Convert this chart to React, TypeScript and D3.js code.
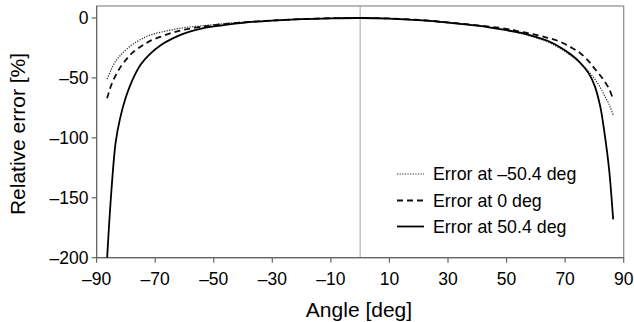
import React from "react";
import * as d3 from "d3";

const angles = [-86.4, -85, -83.5, -82, -80, -78, -75, -72, -68, -64, -60, -55, -50, -40, -30, -20, -10, 0, 10, 20, 30, 40, 50, 55, 60, 64, 68, 72, 75, 78, 80, 82, 83.5, 85, 86.4];

const errNeg504 = [-51, -43, -36, -31.5, -26.5, -22.5, -18, -14.5, -11.8, -9.8, -8, -6.8, -5.6, -3.4, -2, -0.9, -0.2, 0, -0.5, -1.8, -3.9, -6.5, -10, -13, -16.5, -20, -25, -31.5, -37, -44.5, -50.5, -58, -65, -72, -81];
const errZero = [-67, -56, -48, -41.5, -35, -29.5, -24, -19.5, -15.5, -12.2, -9.8, -7.6, -6, -3.6, -2.1, -0.9, -0.2, 0, -0.4, -1.6, -3.6, -6.1, -9, -11.5, -14, -16.5, -19.5, -24.5, -29, -36, -42, -48, -53, -59, -68];
const errPos504 = [-200, -146, -104, -84, -66, -53, -39, -30.5, -22.5, -17, -12.8, -9.3, -7, -4, -2.2, -1, -0.3, 0, -0.5, -1.8, -3.8, -6.4, -10.2, -12.5, -15.8, -19, -24, -30.5, -37, -46, -56, -74, -97, -126, -168];

const xTicks = [-90, -70, -50, -30, -10, 10, 30, 50, 70, 90];
const yTicks = [0, -50, -100, -150, -200];
const seriesNames = ["Error at \u201350.4 deg", "Error at 0 deg", "Error at 50.4 deg"];

const fmt = (v: number) => (v < 0 ? "\u2013" + Math.abs(v) : String(v));

export default function App() {
  const W = 634, H = 322;
  const left = 96.6, right = 623.7, top = 6, bottom = 257.7;
  const x = d3.scaleLinear().domain([-90, 90]).range([left, right]);
  const y = d3.scaleLinear().domain([-200, 10]).range([bottom, top]);
  const series = [errNeg504, errZero, errPos504];
  const styles = [
    { dash: "1.3,1.3", width: 1.2, color: "#333" },
    { dash: "6,4", width: 1.8, color: "#111" },
    { dash: "", width: 1.8, color: "#000" },
  ];
  const line = (vals: number[]) =>
    d3
      .line<number>()
      .x((_, i) => x(angles[i]))
      .y((v) => y(v))
      .curve(d3.curveCatmullRom.alpha(0.5))(vals) || "";
  const font = "'Liberation Sans', Arial, sans-serif";
  const legendY = [174, 200.5, 226.5];
  return (
    <svg width={W} height={H} style={{ position: "absolute", left: 0, top: 0 }} fontFamily={font}>
      <defs>
        <clipPath id="plotclip">
          <rect x={left} y={top} width={right - left} height={bottom - top} />
        </clipPath>
      </defs>
      <rect x={0} y={0} width={W} height={H} fill="#fff" />
      <rect x={left} y={top} width={right - left} height={bottom - top} fill="none" stroke="#8a8a8a" strokeWidth={1.2} />
      <line x1={x(0)} x2={x(0)} y1={top} y2={bottom} stroke="#a6a6a6" strokeWidth={1} />
      <line x1={left} x2={left} y1={top} y2={bottom} stroke="#666" strokeWidth={1.2} />
      <line x1={left} x2={right} y1={bottom} y2={bottom} stroke="#666" strokeWidth={1.2} />
      {xTicks.map((t) => (
        <g key={"x" + t}>
          <line x1={x(t)} x2={x(t)} y1={bottom} y2={bottom + 5} stroke="#666" strokeWidth={1.2} />
          <text x={x(t)} y={284.5} textAnchor="middle" fontSize={17.5} fill="#000">
            {fmt(t)}
          </text>
        </g>
      ))}
      {yTicks.map((t) => (
        <g key={"y" + t}>
          <line x1={left - 5} x2={left} y1={y(t)} y2={y(t)} stroke="#666" strokeWidth={1.2} />
          <text x={88.5} y={y(t)} dy="0.35em" textAnchor="end" fontSize={17.5} fill="#000">
            {fmt(t)}
          </text>
        </g>
      ))}
      <g clipPath="url(#plotclip)">
        {series.map((s, i) => (
          <path
            key={i}
            d={line(s)}
            fill="none"
            stroke={styles[i].color}
            strokeWidth={styles[i].width}
            strokeDasharray={styles[i].dash || undefined}
          />
        ))}
      </g>
      {seriesNames.map((n, i) => (
        <g key={"l" + i}>
          <line
            x1={397}
            x2={424}
            y1={legendY[i]}
            y2={legendY[i]}
            stroke={styles[i].color}
            strokeWidth={styles[i].width}
            strokeDasharray={styles[i].dash || undefined}
          />
          <text x={433} y={legendY[i]} dy="0.35em" fontSize={17.8} fill="#000">
            {n}
          </text>
        </g>
      ))}
      <text x={359} y={316.5} textAnchor="middle" fontSize={21} fill="#000">
        Angle [deg]
      </text>
      <text transform={`translate(24.5,134) rotate(-90)`} textAnchor="middle" fontSize={21} fill="#000">
        Relative error [%]
      </text>
    </svg>
  );
}
